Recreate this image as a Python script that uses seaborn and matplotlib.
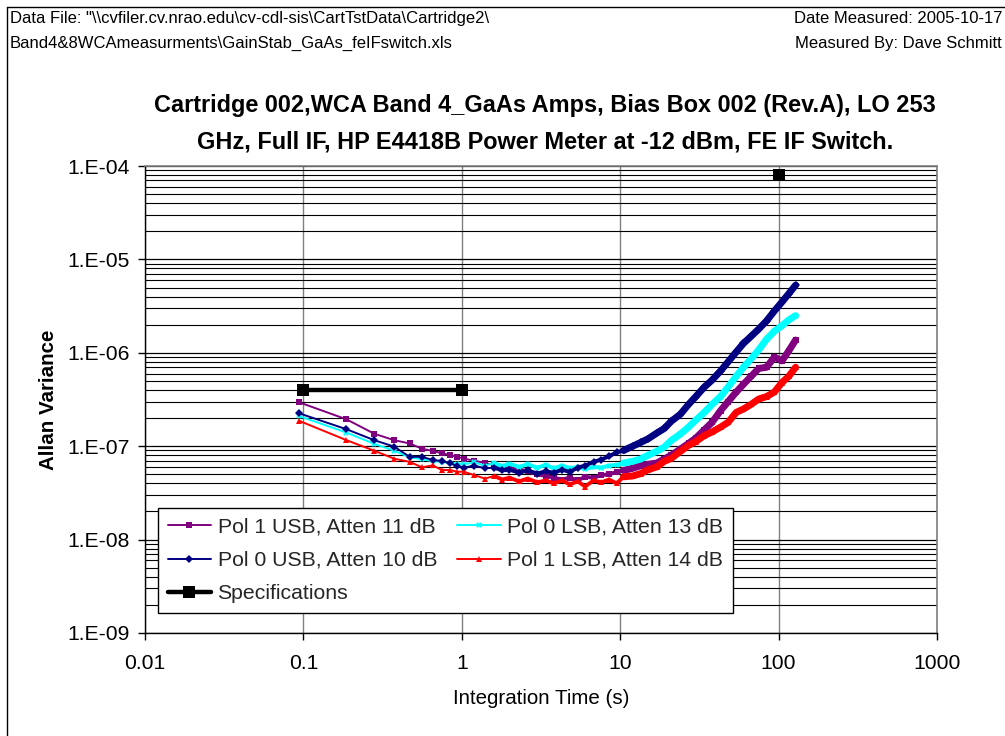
import numpy as np
import pandas as pd
import matplotlib
matplotlib.use("Agg")
import matplotlib.pyplot as plt
import seaborn as sns
from matplotlib.ticker import FixedLocator, FixedFormatter, LogLocator, NullLocator
from matplotlib.lines import Line2D

# ---------------- data ----------------
times = [0.094, 0.187, 0.28, 0.374, 0.468, 0.561, 0.655, 0.748, 0.842, 0.935, 1.03,
         1.2, 1.4, 1.6, 1.8, 2.0, 2.3, 2.6, 3.0, 3.4, 3.8, 4.3, 4.8, 5.4, 6.0, 6.8,
         7.6, 8.5, 9.5, 10.5, 12, 13.5, 15, 17, 19, 21, 24, 27, 30, 34, 38,
         43, 48, 54, 60, 67, 75, 84, 94, 105, 116, 128]

pol1_usb = [2.95e-7, 1.94e-7, 1.36e-7, 1.16e-7, 1.07e-7, 9.4e-8, 8.9e-8, 8.4e-8, 8.05e-8, 7.7e-8, 7.35e-8,
            7.0e-8, 6.6e-8, 6.3e-8, 6.0e-8, 5.9e-8,
            5.6e-8, 5.4e-8, 5.0e-8, 4.8e-8, 4.6e-8,
            4.4e-8, 4.6e-8, 4.3e-8, 4.7e-8, 4.6e-8,
            4.9e-8, 5.0e-8, 5.3e-8, 5.5e-8, 5.8e-8,
            6.2e-8, 6.4e-8, 6.6e-8, 7.3e-8, 8.0e-8,
            9.3e-8, 1.07e-7, 1.22e-7, 1.5e-7, 1.8e-7,
            2.4e-7, 3.0e-7, 3.8e-7, 4.6e-7, 5.6e-7,
            6.8e-7, 7.0e-7, 9.0e-7, 8.2e-7, 1.05e-6,
            1.37e-6]

pol0_usb = [2.25e-7, 1.52e-7, 1.16e-7, 9.9e-8, 7.7e-8, 7.7e-8, 7.1e-8, 6.95e-8, 6.56e-8, 6.14e-8, 5.9e-8,
            6.2e-8, 5.8e-8, 5.9e-8, 5.5e-8, 5.6e-8,
            5.2e-8, 5.5e-8, 5.1e-8, 5.4e-8, 5.2e-8,
            5.6e-8, 5.3e-8, 5.9e-8, 6.2e-8, 6.8e-8,
            7.2e-8, 7.8e-8, 8.6e-8, 9.0e-8, 1.0e-7,
            1.1e-7, 1.2e-7, 1.38e-7, 1.55e-7, 1.85e-7,
            2.2e-7, 2.8e-7, 3.4e-7, 4.3e-7, 5.1e-7,
            6.4e-7, 8.0e-7, 1.02e-6, 1.26e-6, 1.5e-6,
            1.8e-6, 2.2e-6, 2.8e-6, 3.5e-6, 4.3e-6,
            5.3e-6]

pol0_lsb = [2.1e-7, 1.40e-7, 1.06e-7, 8.96e-8, 7.6e-8, 7.24e-8, 6.9e-8, 6.8e-8, 6.6e-8, 6.5e-8, 6.4e-8,
            6.7e-8, 6.2e-8, 6.6e-8, 6.1e-8, 6.5e-8,
            6.0e-8, 6.4e-8, 5.9e-8, 6.3e-8, 5.8e-8,
            6.2e-8, 5.8e-8, 6.0e-8, 5.7e-8, 6.0e-8,
            5.9e-8, 6.2e-8, 6.3e-8, 6.6e-8, 6.9e-8,
            7.3e-8, 8.0e-8, 8.8e-8, 9.8e-8, 1.15e-7,
            1.35e-7, 1.6e-7, 1.9e-7, 2.3e-7, 2.8e-7,
            3.4e-7, 4.3e-7, 5.6e-7, 7.0e-7, 8.6e-7,
            1.08e-6, 1.4e-6, 1.7e-6, 1.95e-6, 2.25e-6,
            2.5e-6]

pol1_lsb = [1.87e-7, 1.16e-7, 8.95e-8, 7.35e-8, 6.8e-8, 5.94e-8, 6.24e-8, 5.56e-8, 5.56e-8, 5.33e-8, 5.33e-8,
            4.9e-8, 4.5e-8, 4.8e-8, 4.4e-8, 4.6e-8,
            4.2e-8, 4.5e-8, 4.1e-8, 4.3e-8, 4.0e-8,
            4.3e-8, 3.9e-8, 4.2e-8, 3.7e-8, 4.3e-8,
            4.1e-8, 4.4e-8, 4.0e-8, 4.7e-8, 4.8e-8,
            5.1e-8, 5.6e-8, 6.0e-8, 6.9e-8, 7.4e-8,
            8.8e-8, 1.02e-7, 1.12e-7, 1.3e-7, 1.42e-7,
            1.6e-7, 1.8e-7, 2.3e-7, 2.5e-7, 2.8e-7,
            3.2e-7, 3.4e-7, 3.8e-7, 4.8e-7, 5.6e-7,
            7.0e-7]

spec_times = [0.1, 1.0, 100.0]
spec_values = [4e-7, 4e-7, 8e-5]

x_ticks = [0.01, 0.1, 1, 10, 100, 1000]
x_tick_labels = ["0.01", "0.1", "1", "10", "100", "1000"]
y_ticks = [1e-9, 1e-8, 1e-7, 1e-6, 1e-5, 1e-4]
y_tick_labels = ["1.E-09", "1.E-08", "1.E-07", "1.E-06", "1.E-05", "1.E-04"]

series_names = ["Pol 1 USB, Atten 11 dB", "Pol 0 LSB, Atten 13 dB",
                "Pol 0 USB, Atten 10 dB", "Pol 1 LSB, Atten 14 dB"]
series_values = [pol1_usb, pol0_lsb, pol0_usb, pol1_lsb]
series_colors = ["#800080", "#00FFFF", "#000080", "#FF0000"]
series_markers = ["s", "X", "D", "^"]

# ---------------- figure ----------------
sns.set_theme(style="white")
plt.rcParams["font.family"] = ["Liberation Sans", "DejaVu Sans"]

W, H = 1005, 736
fig = plt.figure(figsize=(W / 100, H / 100), dpi=100)
fig.patch.set_facecolor("white")
L, R, T, B = 145, 937, 166, 633
ax = fig.add_axes([L / W, 1 - B / H, (R - L) / W, (B - T) / H])
ax.set_facecolor("white")

ax.set_xscale("log")
ax.set_yscale("log")

for name, vals, col, mk in zip(series_names, series_values, series_colors, series_markers):
    df = pd.DataFrame({"t": times, "v": vals})
    sns.lineplot(data=df, x="t", y="v", ax=ax, color=col, lw=1.4, marker=mk,
                 markersize=4, markeredgewidth=0, markeredgecolor=col,
                 estimator=None, sort=False, label=name, zorder=3)
    mid = df[df["t"] >= 1.5]
    sns.lineplot(data=mid, x="t", y="v", ax=ax, color=col, lw=2.8,
                 estimator=None, sort=False, legend=False, zorder=3)
    hi = df[df["t"] >= 10]
    sns.lineplot(data=hi, x="t", y="v", ax=ax, color=col, lw=5.0,
                 estimator=None, sort=False, legend=False, zorder=3)

spec_line = pd.DataFrame({"t": spec_times[:2], "v": spec_values[:2]})
sns.lineplot(data=spec_line, x="t", y="v", ax=ax, color="black", lw=3.2, marker="s",
             markersize=8, markeredgewidth=0, estimator=None, sort=False,
             label="Specifications", zorder=4)
spec_pt = pd.DataFrame({"t": spec_times[2:], "v": spec_values[2:]})
sns.lineplot(data=spec_pt, x="t", y="v", ax=ax, color="black", lw=3.2, marker="s",
             markersize=8, markeredgewidth=0, estimator=None, sort=False,
             legend=False, zorder=4)

ax.set_xlim(0.01, 1000)
ax.set_ylim(1e-9, 1e-4)

ax.xaxis.set_major_locator(FixedLocator(x_ticks))
ax.xaxis.set_major_formatter(FixedFormatter(x_tick_labels))
ax.xaxis.set_minor_locator(NullLocator())
ax.yaxis.set_major_locator(FixedLocator(y_ticks))
ax.yaxis.set_major_formatter(FixedFormatter(y_tick_labels))
ax.yaxis.set_minor_locator(LogLocator(base=10, subs=[2, 3, 4, 5, 6, 7, 8, 9], numticks=30))

ax.grid(False)
ax.xaxis.grid(True, which="major", color="#808080", lw=1.0, zorder=0)
ax.yaxis.grid(True, which="major", color="#000000", lw=0.9, zorder=0)
ax.yaxis.grid(True, which="minor", color="#000000", lw=0.8, zorder=0)
ax.set_axisbelow(True)

ax.tick_params(axis="x", which="major", direction="out", length=5, width=1,
               color="black", pad=10, labelsize=15.2, labelcolor="black", bottom=True)
ax.tick_params(axis="y", which="major", direction="out", length=5, width=1,
               color="black", pad=6, labelsize=15.2, labelcolor="black", left=True)
ax.tick_params(axis="y", which="minor", length=0)

for side in ["left", "bottom"]:
    ax.spines[side].set_color("black")
    ax.spines[side].set_linewidth(1.0)
for side in ["top", "right"]:
    ax.spines[side].set_color("#808080")
    ax.spines[side].set_linewidth(1.2)

ax.set_xlabel("Integration Time (s)", fontsize=14.8, color="black")
ax.set_ylabel("Allan Variance", fontsize=14.8, fontweight="bold", color="black")
ax.xaxis.set_label_coords((541 - L) / (R - L), (B - 689) / (B - T))
ax.yaxis.set_label_coords((58 - L) / (R - L), 0.5)

# legend
handles, labels = ax.get_legend_handles_labels()
order = ["Pol 1 USB, Atten 11 dB", "Pol 0 USB, Atten 10 dB", "Specifications",
         "Pol 0 LSB, Atten 13 dB", "Pol 1 LSB, Atten 14 dB"]
hmap = dict(zip(labels, handles))
leg = ax.legend([hmap[k] for k in order], order, ncol=2, loc="lower left",
                bbox_to_anchor=((158 - L) / (R - L), (B - 613) / (B - T)),
                borderaxespad=0, fontsize=15.3, frameon=True, fancybox=False,
                framealpha=1, edgecolor="black", handlelength=2.05,
                handletextpad=0.3, columnspacing=0.95, labelspacing=0.68,
                borderpad=0.45)
leg.get_frame().set_linewidth(1.0)
leg.set_zorder(5)

# header texts
fig.text(10 / W, 1 - 23 / H, 'Data File: "\\\\cvfiler.cv.nrao.edu\\cv-cdl-sis\\CartTstData\\Cartridge2\\',
         fontsize=12, ha="left", va="baseline", color="black")
fig.text(10 / W, 1 - 48 / H, "Band4&8WCAmeasurments\\GainStab_GaAs_feIFswitch.xls",
         fontsize=12, ha="left", va="baseline", color="black")
fig.text(1002 / W, 1 - 23 / H, "Date Measured: 2005-10-17",
         fontsize=12, ha="right", va="baseline", color="black")
fig.text(1002 / W, 1 - 48 / H, "Measured By: Dave Schmitt",
         fontsize=12, ha="right", va="baseline", color="black")

# title
fig.text(545 / W, 1 - 112 / H, "Cartridge 002,WCA Band 4_GaAs Amps, Bias Box 002 (Rev.A), LO 253",
         fontsize=16.9, fontweight="bold", ha="center", va="baseline", color="black")
fig.text(545 / W, 1 - 148 / H, "GHz, Full IF, HP E4418B Power Meter at -12 dBm, FE IF Switch.",
         fontsize=16.9, fontweight="bold", ha="center", va="baseline", color="black")

# outer frame (left and top edges visible inside the canvas)
fig.add_artist(Line2D([6.5 / W, 6.5 / W], [0, 1 - 6.5 / H], transform=fig.transFigure,
                      color="black", lw=1.0))
fig.add_artist(Line2D([6.5 / W, 1], [1 - 6.5 / H, 1 - 6.5 / H], transform=fig.transFigure,
                      color="black", lw=1.0))

fig.savefig("out.png", dpi=100)
